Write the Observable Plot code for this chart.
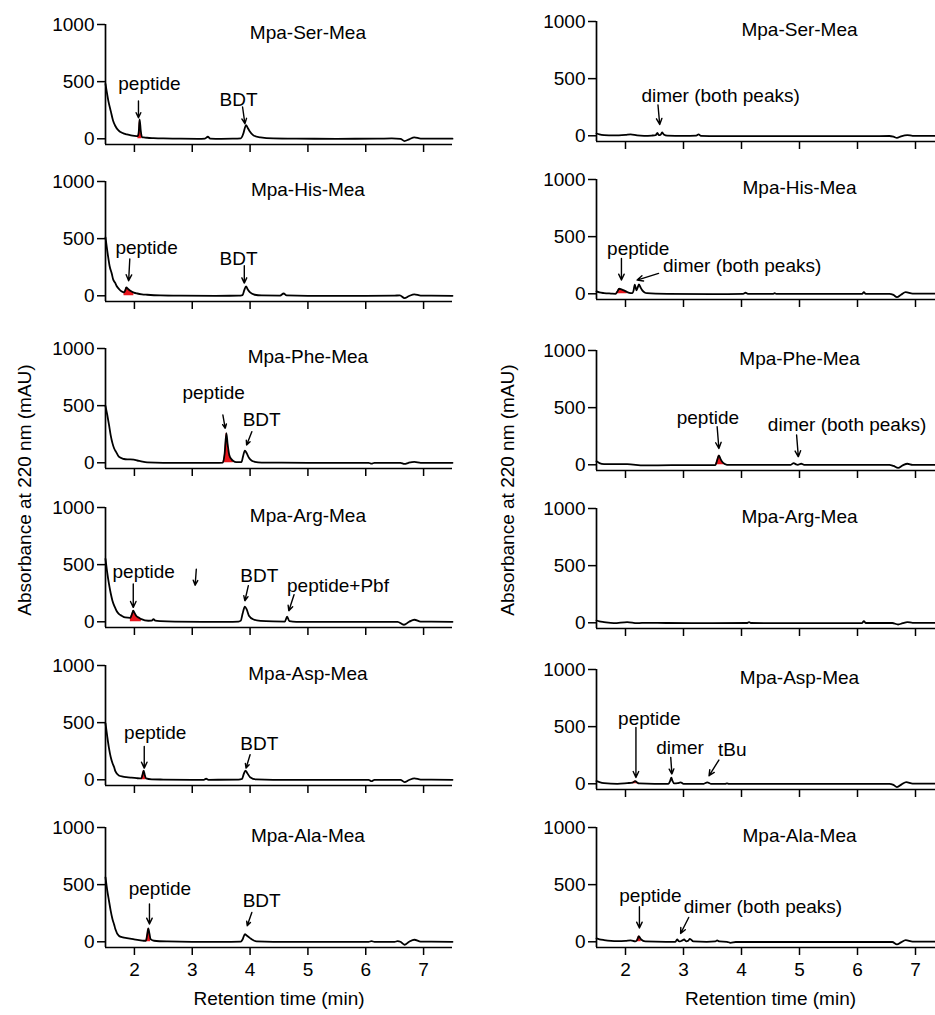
<!DOCTYPE html>
<html><head><meta charset="utf-8">
<script src="https://cdn.jsdelivr.net/npm/d3@7"></script>
<script src="https://cdn.jsdelivr.net/npm/@observablehq/plot@0.6"></script>
<style>
html,body{margin:0;padding:0;background:#fff;overflow:hidden;}
#fig{position:relative;width:935px;height:1015px;overflow:hidden;font-family:"Liberation Sans",Arial,sans-serif;color:#000;background:#fff;}
.panel{position:absolute;}
.ylab{position:absolute;font-size:19px;white-space:nowrap;transform:translate(-50%,-50%) rotate(-90deg);}
</style></head><body><div id="fig"></div>
<script>
// ---------- data ----------
const titles = ["Mpa-Ser-Mea","Mpa-His-Mea","Mpa-Phe-Mea","Mpa-Arg-Mea","Mpa-Asp-Mea","Mpa-Ala-Mea"];
const xTicks = [2,3,4,5,6,7];
const yTicks = [0,500,1000];
const xLabel = "Retention time (min)";
const yLabel = "Absorbance at 220 nm (mAU)";

// [retention time (min), absorbance (mAU)]
const leftSer = [[1.50,480],[1.55,330],[1.59,244],[1.63,160],[1.67,112],[1.72,75],[1.76,59],[1.82,45],[1.87,38],[1.94,30],[2.00,26],[2.06,24],[2.075,60],[2.09,170],[2.11,70],[2.13,15],[2.18,11],[2.22,9],[2.33,6],[2.50,3],[2.80,1],[3.10,0],[3.22,2],[3.27,18],[3.31,2],[3.50,0],[3.70,1],[3.84,4],[3.88,40],[3.93,120],[3.96,95],[3.99,68],[4.06,29],[4.18,12],[4.40,3],[4.80,1],[5.50,0],[6.20,1],[6.45,3],[6.60,0],[6.67,-20],[6.75,-5],[6.84,12],[6.95,2],[7.50,1]];
const leftHis = [[1.50,511],[1.54,360],[1.57,263],[1.61,190],[1.63,146],[1.67,110],[1.69,88],[1.74,55],[1.78,38],[1.82,29],[1.84,45],[1.86,73],[1.89,60],[1.93,44],[1.99,28],[2.05,20],[2.13,13],[2.22,9],[2.45,3],[2.80,1],[3.40,0],[3.80,1],[3.87,6],[3.90,50],[3.93,82],[3.96,55],[4.00,29],[4.08,9],[4.20,3],[4.52,2],[4.58,20],[4.63,3],[5.00,0],[6.00,0],[6.50,2],[6.59,3],[6.67,-20],[6.75,-2],[6.84,12],[6.95,2],[7.50,0]];
const leftPhe = [[1.50,497],[1.53,420],[1.56,334],[1.59,240],[1.62,172],[1.65,125],[1.68,98],[1.73,53],[1.78,40],[1.82,33],[1.90,30],[1.99,27],[2.05,20],[2.10,15],[2.22,3],[2.50,0],[3.00,0],[3.40,0],[3.53,2],[3.56,80],[3.59,260],[3.61,170],[3.64,68],[3.68,30],[3.71,15],[3.76,5],[3.85,5],[3.88,60],[3.91,107],[3.94,85],[3.98,44],[4.03,18],[4.08,9],[4.20,2],[5.00,0],[6.05,0],[6.10,-8],[6.15,0],[6.60,0],[6.67,-10],[6.74,0],[6.84,8],[6.95,0],[7.50,0]];
const leftArg = [[1.50,551],[1.53,430],[1.56,331],[1.59,250],[1.62,185],[1.66,130],[1.69,97],[1.73,70],[1.78,53],[1.84,38],[1.93,35],[1.96,70],[1.98,97],[2.00,80],[2.03,53],[2.08,35],[2.12,23],[2.24,9],[2.30,10],[2.33,23],[2.36,10],[2.45,5],[2.70,1],[3.20,0],[3.60,0],[3.80,2],[3.84,10],[3.87,70],[3.91,132],[3.94,110],[3.98,53],[4.06,20],[4.18,8],[4.40,3],[4.60,2],[4.64,44],[4.68,5],[4.80,0],[5.50,0],[6.30,0],[6.55,0],[6.66,-26],[6.75,0],[6.84,18],[6.95,2],[7.50,0]];
const leftAsp = [[1.50,494],[1.53,380],[1.56,277],[1.59,200],[1.62,147],[1.65,110],[1.67,75],[1.73,38],[1.80,28],[1.86,23],[1.95,18],[2.04,14],[2.12,12],[2.14,45],[2.16,81],[2.18,40],[2.20,12],[2.30,4],[2.50,2],[3.00,0],[3.20,0],[3.24,9],[3.28,0],[3.80,2],[3.86,8],[3.89,50],[3.92,81],[3.95,60],[4.00,23],[4.11,3],[4.40,0],[5.50,0],[6.05,0],[6.10,-12],[6.15,0],[6.60,0],[6.67,-20],[6.75,-2],[6.84,12],[6.95,2],[7.50,0]];
const leftAla = [[1.50,563],[1.53,450],[1.56,359],[1.59,270],[1.62,199],[1.65,150],[1.67,111],[1.73,53],[1.80,38],[1.87,32],[1.98,23],[2.08,15],[2.16,9],[2.20,9],[2.22,60],[2.24,117],[2.26,70],[2.28,23],[2.34,9],[2.57,3],[3.00,0],[3.50,0],[3.84,2],[3.87,20],[3.91,67],[3.94,55],[4.00,32],[4.05,15],[4.11,3],[4.40,0],[5.50,0],[6.05,0],[6.10,5],[6.15,0],[6.50,0],[6.55,5],[6.60,0],[6.67,-26],[6.75,0],[6.84,18],[6.95,2],[7.50,0]];

const rightSer = [[1.50,20],[1.55,12],[1.63,6],[1.80,3],[2.00,8],[2.09,12],[2.20,3],[2.32,0],[2.45,2],[2.52,5],[2.55,26],[2.57,8],[2.59,6],[2.61,12],[2.63,29],[2.66,12],[2.72,2],[3.00,0],[3.22,2],[3.26,12],[3.30,0],[3.60,-3],[4.50,-3],[5.50,-3],[6.20,-3],[6.55,-2],[6.62,-8],[6.68,-18],[6.75,-5],[6.86,6],[6.95,0],[7.50,0]];
const rightHis = [[1.50,21],[1.55,12],[1.63,6],[1.75,2],[1.83,0],[1.86,20],[1.89,44],[1.93,38],[1.97,30],[2.03,15],[2.09,6],[2.12,5],[2.14,30],[2.16,80],[2.18,45],[2.19,30],[2.21,55],[2.23,83],[2.26,55],[2.29,30],[2.33,12],[2.37,6],[2.72,0],[3.50,-3],[4.03,0],[4.07,9],[4.11,0],[4.55,0],[4.57,6],[4.60,0],[6.08,0],[6.11,15],[6.14,0],[6.55,0],[6.62,-10],[6.68,-30],[6.75,-8],[6.83,15],[6.95,2],[7.50,0]];
const rightPhe = [[1.50,30],[1.55,15],[1.63,6],[2.03,6],[2.32,-6],[2.80,-3],[3.40,-3],[3.55,-2],[3.58,40],[3.61,83],[3.64,50],[3.67,24],[3.72,5],[3.75,0],[4.50,0],[4.85,0],[4.90,15],[4.94,3],[4.97,0],[5.03,9],[5.08,0],[6.00,0],[6.55,0],[6.62,-10],[6.70,-27],[6.78,-5],[6.86,9],[6.95,0],[7.50,0]];
const rightArg = [[1.50,20],[1.55,12],[1.63,6],[1.80,-3],[2.03,6],[2.20,-3],[2.37,0],[2.70,-2],[3.50,-3],[4.10,-2],[4.13,5],[4.16,-2],[5.00,-3],[6.08,-2],[6.11,15],[6.14,-2],[6.60,-2],[6.70,-15],[6.78,-3],[6.86,6],[6.95,0],[7.50,0]];
const rightAsp = [[1.50,24],[1.55,15],[1.63,6],[1.86,0],[2.03,6],[2.12,10],[2.17,24],[2.20,12],[2.23,3],[2.50,0],[2.74,0],[2.77,25],[2.79,53],[2.81,25],[2.84,3],[2.90,5],[2.95,12],[3.00,0],[3.35,0],[3.41,12],[3.47,0],[3.72,0],[3.75,3],[3.78,0],[4.50,0],[5.50,0],[6.00,0],[6.55,0],[6.62,-10],[6.68,-29],[6.76,-5],[6.84,15],[6.95,2],[7.50,0]];
const rightAla = [[1.50,29],[1.55,22],[1.63,15],[1.75,8],[1.86,6],[2.00,8],[2.09,12],[2.17,3],[2.20,15],[2.23,50],[2.25,35],[2.27,20],[2.34,3],[2.70,0],[2.86,0],[2.89,20],[2.92,5],[2.94,3],[2.98,12],[3.01,20],[3.05,3],[3.08,8],[3.11,26],[3.17,3],[3.40,0],[3.55,3],[3.58,12],[3.62,3],[3.75,0],[3.81,-9],[3.90,-2],[5.00,-2],[6.20,-2],[6.60,-2],[6.68,-23],[6.75,-5],[6.83,15],[6.95,2],[7.50,0]];

// retention-time windows of the peptide peak shaded red
const leftRed = [[2.06,2.13],[1.82,1.99],[3.53,3.71],[1.93,2.12],[2.12,2.20],[2.20,2.28]];
const rightRed = [null,[1.83,2.03],[3.55,3.72],null,[2.12,2.23],[2.20,2.27]];

// annotations (data coordinates)
const leftLabels = [
  [{text:"peptide",x:2.26,y:480},{text:"BDT",x:3.80,y:337}],
  [{text:"peptide",x:2.21,y:415},{text:"BDT",x:3.80,y:322}],
  [{text:"peptide",x:3.37,y:608},{text:"BDT",x:4.20,y:374}],
  [{text:"peptide",x:2.16,y:433},{text:"BDT",x:4.16,y:404},{text:"peptide+Pbf",x:5.52,y:310}],
  [{text:"peptide",x:2.36,y:410},{text:"BDT",x:4.16,y:313}],
  [{text:"peptide",x:2.44,y:462},{text:"BDT",x:4.20,y:360}]
];
const leftArrows = [
  [[2.07,330,2.07,184],[3.87,278,3.91,132]],
  [[1.92,322,1.90,132],[3.90,263,3.90,111]],
  [[3.53,418,3.57,301],[4.03,272,3.94,155]],
  [[1.98,331,1.98,126],[3.07,460,3.05,320],[3.97,316,3.91,184],[4.76,237,4.67,96]],
  [[2.17,292,2.17,102],[4.00,219,3.93,102]],
  [[2.26,330,2.26,155],[4.03,257,3.95,140]]
];
const rightLabels = [
  [{text:"dimer (both peaks)",x:3.64,y:348}],
  [{text:"peptide",x:2.22,y:397},{text:"dimer (both peaks)",x:4.01,y:243}],
  [{text:"peptide",x:3.42,y:412},{text:"dimer (both peaks)",x:5.82,y:348}],
  [],
  [{text:"peptide",x:2.41,y:567},{text:"dimer",x:2.94,y:313},{text:"tBu",x:3.84,y:298}],
  [{text:"peptide",x:2.43,y:404},{text:"dimer (both peaks)",x:4.37,y:307}]
];
const rightArrows = [
  [[2.56,269,2.59,99]],
  [[1.93,310,1.93,120],[2.57,178,2.20,120]],
  [[3.58,333,3.61,143],[4.95,260,4.98,70]],
  [],
  [[2.18,494,2.18,55],[2.78,231,2.80,85],[3.61,208,3.44,70]],
  [[2.24,307,2.24,120],[3.09,213,2.95,73]]
];

const leftData = [leftSer,leftHis,leftPhe,leftArg,leftAsp,leftAla];
const rightData = [rightSer,rightHis,rightPhe,rightArg,rightAsp,rightAla];

// ---------- layout ----------
const leftTop = [24,181,348,507,665,827];
const rightTop = [21,179,350,508,669,827];
const MT = 12, PH = 120;
const RED = "#e8161c";
const FONT = "\"Liberation Sans\", Arial, sans-serif";
const FS = 19;

function makePanel(data, red, labels, arrows, title, col, bottom) {
  const width = col === 0 ? 470 : 474;
  const marginLeft = col === 0 ? 105 : 126;
  const marginRight = col === 0 ? 18 : 0;
  const MB = bottom ? 70 : 14;
  const X = d => d[0], Y = d => d[1];
  return Plot.plot({
    width, height: MT + PH + MB,
    marginTop: MT, marginBottom: MB, marginLeft, marginRight,
    x: {domain: [1.5, 7.5]},
    y: {domain: [-50, 1000]},
    style: {fontFamily: FONT, fontSize: FS + "px", background: "transparent", overflow: "visible", maxWidth: "none", color: "#000"},
    marks: [
      red ? Plot.areaY(data.filter(d => d[0] >= red[0] && d[0] <= red[1]), {x: X, y: Y, fill: RED, curve: "monotone-x"}) : null,
      Plot.line(data, {x: X, y: Y, stroke: "#000", strokeWidth: 1.8, curve: "monotone-x"}),
      Plot.ruleX([1.5], {stroke: "#000", strokeWidth: 1.7}),
      Plot.ruleY([-50], {stroke: "#000", strokeWidth: 1.7}),
      Plot.axisY(yTicks, {tickSize: 8, tickPadding: 3, strokeWidth: 1.5, label: null, tickFormat: d => String(d)}),
      Plot.axisX(xTicks, {tickSize: 8, tickPadding: 7, strokeWidth: 1.5, label: null, tickFormat: bottom ? (d => String(d)) : (() => "")}),
      Plot.text([title], {x: 5.0, y: 925, fontSize: FS}),
      Plot.text(labels, {x: "x", y: "y", text: "text", fontSize: FS}),
      Plot.arrow(arrows, {x1: d => d[0], y1: d => d[1], x2: d => d[2], y2: d => d[3], stroke: "#000", strokeWidth: 1.4, headLength: 7, headAngle: 50}),
      bottom ? Plot.text([xLabel], {frameAnchor: "bottom", dy: 57, fontSize: FS}) : null
    ]
  });
}

const fig = document.getElementById("fig");
for (let i = 0; i < 6; i++) {
  const bottom = i === 5;
  const l = document.createElement("div");
  l.className = "panel";
  l.style.left = "0px"; l.style.top = (leftTop[i] - MT) + "px"; l.style.width = "470px";
  l.appendChild(makePanel(leftData[i], leftRed[i], leftLabels[i], leftArrows[i], titles[i], 0, bottom));
  fig.appendChild(l);
  const r = document.createElement("div");
  r.className = "panel";
  r.style.left = "470px"; r.style.top = (rightTop[i] - MT) + "px"; r.style.width = "474px";
  r.appendChild(makePanel(rightData[i], rightRed[i], rightLabels[i], rightArrows[i], titles[i], 1, bottom));
  fig.appendChild(r);
}
for (const cx of [25, 508]) {
  const d = document.createElement("div");
  d.className = "ylab";
  d.style.left = cx + "px"; d.style.top = "490px";
  d.textContent = yLabel;
  fig.appendChild(d);
}
</script></body></html>
